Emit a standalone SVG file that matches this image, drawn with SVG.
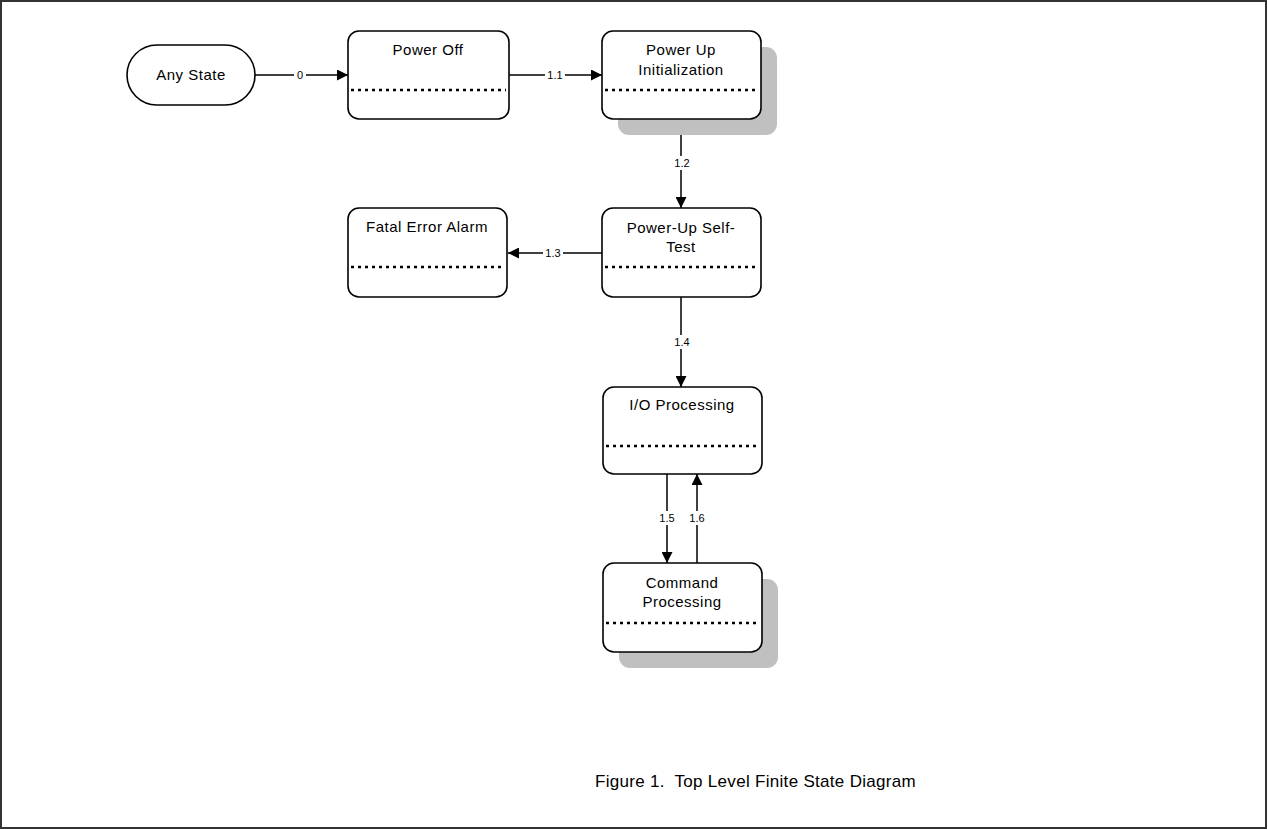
<svg xmlns="http://www.w3.org/2000/svg" width="1268" height="830" viewBox="0 0 1268 830">
<style>
.box{fill:#fff;stroke:#000;stroke-width:1.6}
.shadow{fill:#c0c0c0;stroke:none}
.dots{stroke:#000;stroke-width:2.5;stroke-dasharray:3 4;fill:none}
.t{font-family:"Liberation Sans",Arial,sans-serif;font-size:15px;letter-spacing:0.5px;text-anchor:middle;fill:#000}
.lbl{font-family:"Liberation Sans",Arial,sans-serif;font-size:11px;text-anchor:middle;fill:#000}
.line{stroke:#000;stroke-width:1.5;fill:none}
.cap{font-family:"Liberation Sans",Arial,sans-serif;font-size:17px;letter-spacing:0.3px;fill:#000}
</style>
<defs>
<marker id="ah" viewBox="0 0 10 10" refX="10" refY="5" markerWidth="11" markerHeight="11" markerUnits="userSpaceOnUse" orient="auto">
<path d="M0,0 L10,5 L0,10 z" fill="#000"/>
</marker>
</defs>
<rect x="1" y="1" width="1265" height="827" fill="#fff" stroke="#333" stroke-width="2"/>

<g id="connectors">
<line class="line" x1="255" y1="75" x2="348" y2="75" marker-end="url(#ah)"/>
<line class="line" x1="509" y1="75" x2="602" y2="75" marker-end="url(#ah)"/>
<line class="line" x1="681" y1="119" x2="681" y2="208" marker-end="url(#ah)"/>
<line class="line" x1="602" y1="253" x2="508" y2="253" marker-end="url(#ah)"/>
<line class="line" x1="681" y1="297" x2="681" y2="387" marker-end="url(#ah)"/>
<line class="line" x1="667" y1="474" x2="667" y2="563" marker-end="url(#ah)"/>
<line class="line" x1="697" y1="563" x2="697" y2="474" marker-end="url(#ah)"/>
<rect x="294" y="68" width="12" height="14" fill="#fff"/>
<text class="lbl" x="300" y="79">0</text>
<rect x="545" y="68" width="20" height="14" fill="#fff"/>
<text class="lbl" x="555" y="79">1.1</text>
<rect x="672" y="156" width="20" height="14" fill="#fff"/>
<text class="lbl" x="682" y="167">1.2</text>
<rect x="543" y="246" width="20" height="14" fill="#fff"/>
<text class="lbl" x="553" y="257">1.3</text>
<rect x="672" y="335" width="20" height="14" fill="#fff"/>
<text class="lbl" x="682" y="346">1.4</text>
<rect x="657" y="511" width="20" height="14" fill="#fff"/>
<text class="lbl" x="667" y="522">1.5</text>
<rect x="687" y="511" width="20" height="14" fill="#fff"/>
<text class="lbl" x="697" y="522">1.6</text>
</g>

<g id="any-state">
<rect class="box" x="127" y="45" width="128" height="60" rx="30" ry="30"/>
<text class="t" x="191" y="80">Any State</text>
</g>

<g id="power-off">
<rect class="box" x="348" y="31" width="161" height="88" rx="11"/>
<line class="dots" x1="351" y1="90" x2="506" y2="90"/>
<text class="t" x="428" y="55">Power Off</text>
</g>

<g id="power-up-init">
<rect class="shadow" x="618" y="47" width="159" height="88" rx="11"/>
<rect class="box" x="602" y="31" width="159" height="88" rx="11"/>
<line class="dots" x1="605" y1="90" x2="758" y2="90"/>
<text class="t" x="681" y="55">Power Up</text>
<text class="t" x="681" y="75">Initialization</text>
</g>

<g id="fatal-error">
<rect class="box" x="348" y="208" width="159" height="89" rx="11"/>
<line class="dots" x1="351" y1="267" x2="504" y2="267"/>
<text class="t" x="427" y="232">Fatal Error Alarm</text>
</g>

<g id="self-test">
<rect class="box" x="602" y="208" width="159" height="89" rx="11"/>
<line class="dots" x1="605" y1="267" x2="758" y2="267"/>
<text class="t" x="681" y="233">Power-Up Self-</text>
<text class="t" x="681" y="252">Test</text>
</g>

<g id="io-processing">
<rect class="box" x="603" y="387" width="159" height="87" rx="11"/>
<line class="dots" x1="606" y1="446" x2="759" y2="446"/>
<text class="t" x="682" y="410">I/O Processing</text>
</g>

<g id="command-processing">
<rect class="shadow" x="619" y="579" width="159" height="89" rx="11"/>
<rect class="box" x="603" y="563" width="159" height="89" rx="11"/>
<line class="dots" x1="606" y1="623" x2="759" y2="623"/>
<text class="t" x="682" y="588">Command</text>
<text class="t" x="682" y="607">Processing</text>
</g>

<text class="cap" x="595" y="787">Figure 1.&#160; Top Level Finite State Diagram</text>
</svg>
